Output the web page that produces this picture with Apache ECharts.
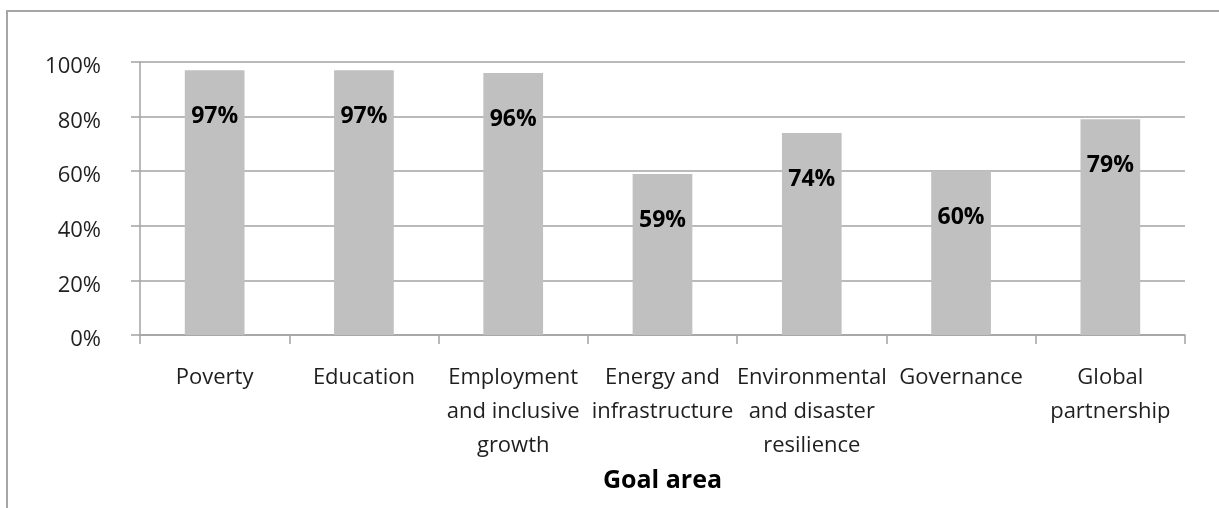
<!DOCTYPE html>
<html>
<head>
<meta charset="utf-8">
<script src="https://cdn.jsdelivr.net/npm/echarts@6/dist/echarts.min.js"></script>
<style>
  html, body { margin: 0; padding: 0; background: #ffffff; }
  #chart { width: 1219px; height: 508px; }
</style>
</head>
<body>
<div id="chart"></div>
<script>
// Goal areas along the horizontal axis
const categories = [
  'Poverty',
  'Education',
  'Employment\nand inclusive\ngrowth',
  'Energy and\ninfrastructure',
  'Environmental\nand disaster\nresilience',
  'Governance',
  'Global\npartnership'
];

// Share per goal area, in percent
const shares = [97, 97, 96, 59, 74, 60, 79];

// Value axis ticks
const yTicks = [0, 20, 40, 60, 80, 100];

const FONT = '"Open Sans", "DejaVu Sans", sans-serif';
const GRID_COLOR = '#a3a3a3';

const chart = echarts.init(document.getElementById('chart'), null, { renderer: 'canvas' });

chart.setOption({
  backgroundColor: '#ffffff',
  animation: false,
  textStyle: { fontFamily: FONT },
  graphic: [{
    type: 'rect',
    shape: { x: 7, y: 11, width: 1230, height: 520 },
    style: { fill: 'none', stroke: '#a6a6a6', lineWidth: 2 },
    silent: true
  }],
  grid: { left: 140, right: 34, top: 62, bottom: 173, containLabel: false },
  xAxis: {
    type: 'category',
    data: categories,
    name: 'Goal area',
    nameLocation: 'middle',
    nameGap: 120,
    nameTextStyle: { fontFamily: FONT, fontSize: 25, fontWeight: 'bold', color: '#000000' },
    axisLine: { show: true, lineStyle: { color: GRID_COLOR, width: 1.5 } },
    axisTick: { show: true, length: 9, lineStyle: { color: GRID_COLOR, width: 1.5 } },
    axisLabel: {
      interval: 0,
      margin: 26,
      fontFamily: FONT,
      fontSize: 22,
      lineHeight: 34,
      color: '#1f1f1f',
      align: 'center'
    }
  },
  yAxis: {
    type: 'value',
    min: 0,
    max: 100,
    interval: 20,
    axisLine: { show: true, lineStyle: { color: GRID_COLOR, width: 1.5 } },
    axisTick: { show: true, length: 9, lineStyle: { color: GRID_COLOR, width: 1.5 } },
    splitLine: { show: true, lineStyle: { color: GRID_COLOR, width: 1.5 } },
    axisLabel: {
      margin: 39,
      fontFamily: FONT,
      fontSize: 22,
      color: '#1f1f1f',
      verticalAlign: 'top',
      lineHeight: 10,
      formatter: function (v) { return yTicks.indexOf(v) >= 0 ? v + '%' : ''; }
    }
  },
  series: [{
    type: 'bar',
    data: shares,
    barWidth: '40%',
    itemStyle: { color: '#c0c0c0' },
    label: {
      show: true,
      position: 'insideTop',
      distance: 35,
      fontFamily: FONT,
      fontSize: 23,
      fontWeight: 'bold',
      color: '#000000',
      formatter: '{c}%'
    }
  }]
});
</script>
</body>
</html>
